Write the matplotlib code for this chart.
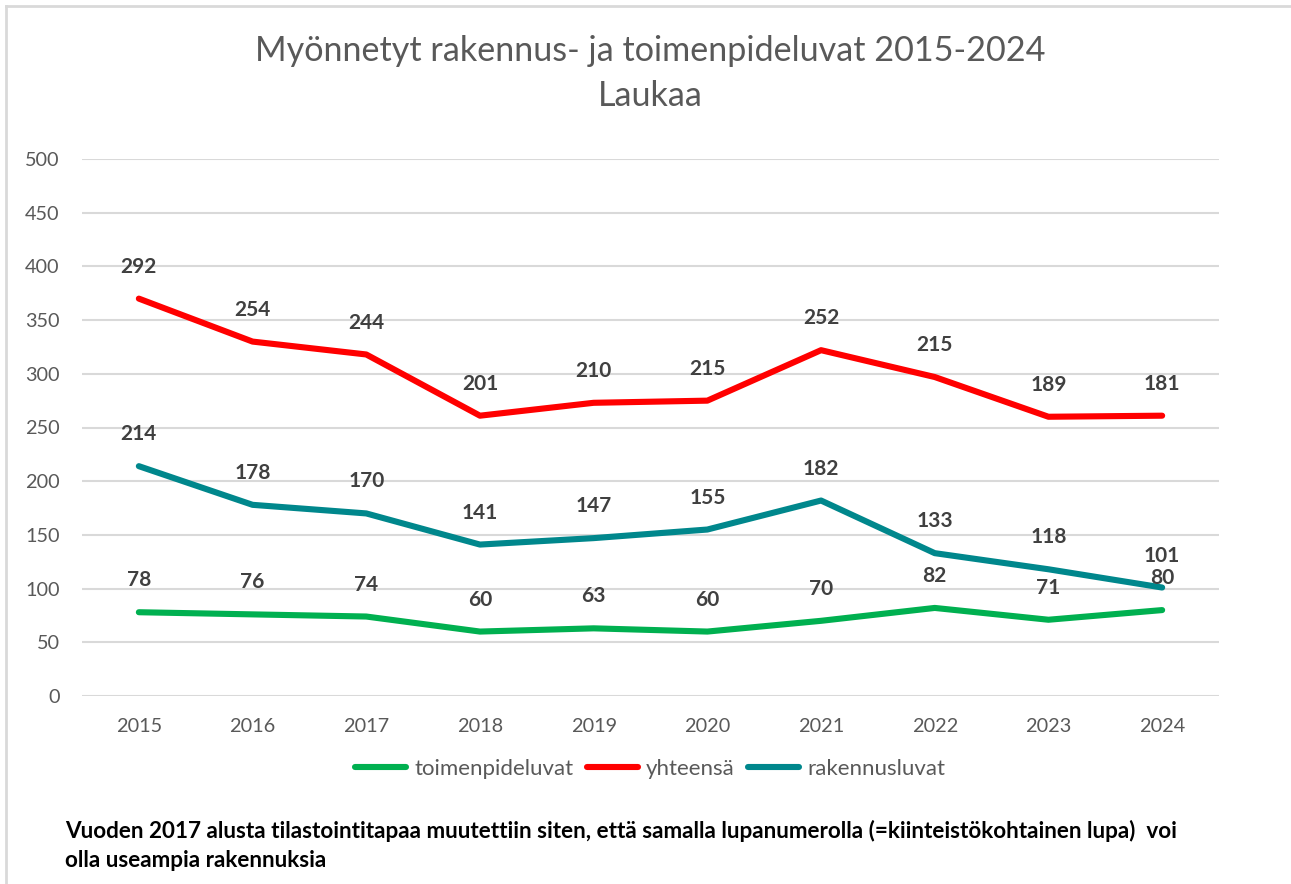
import numpy as np
import matplotlib
matplotlib.use("Agg")
import matplotlib.pyplot as plt
from matplotlib.lines import Line2D

years = [2015, 2016, 2017, 2018, 2019, 2020, 2021, 2022, 2023, 2024]
toimenpideluvat = [78, 76, 74, 60, 63, 60, 70, 82, 71, 80]
yhteensa = [292, 254, 244, 201, 210, 215, 252, 215, 189, 181]
rakennusluvat = [214, 178, 170, 141, 147, 155, 182, 133, 118, 101]

title = "Myönnetyt rakennus- ja toimenpideluvat 2015-2024\nLaukaa"
note = ("Vuoden 2017 alusta tilastointitapaa muutettiin siten, että samalla lupanumerolla "
        "(=kiinteistökohtainen lupa)  voi\nolla useampia rakennuksia")

GREEN = "#00B050"
RED = "#FF0000"
TEAL = "#00878C"
LABEL = "#404040"
TICK = "#595959"
GRID = "#D9D9D9"

plt.rcParams['font.family'] = ['Lato', 'DejaVu Sans']

fig = plt.figure(figsize=(12.91, 8.84), dpi=100)
ax = fig.add_axes([82/1291, 1-696/884, (1219-82)/1291, (696-159)/884])

x = np.arange(len(years))
# Excel stacked line: yhteensä stacked on top of toimenpideluvat
red_vals = np.array(toimenpideluvat) + np.array(yhteensa)

lw = 4.4
ax.plot(x, toimenpideluvat, color=GREEN, lw=lw, solid_capstyle='round', solid_joinstyle='round', label="toimenpideluvat", zorder=3)
ax.plot(x, red_vals, color=RED, lw=lw, solid_capstyle='round', solid_joinstyle='round', label="yhteensä", zorder=3)
ax.plot(x, rakennusluvat, color=TEAL, lw=lw, solid_capstyle='round', solid_joinstyle='round', label="rakennusluvat", zorder=3)

def labels(yvals, texts):
    for xi, yi, t in zip(x, yvals, texts):
        ax.annotate(str(t), (xi, yi), xytext=(0, 23), textcoords='offset points',
                    ha='center', va='center', fontsize=15, fontweight='bold', color=LABEL, zorder=4)

labels(toimenpideluvat, toimenpideluvat)
labels(red_vals, yhteensa)
labels(rakennusluvat, rakennusluvat)

ax.set_xlim(-0.5, len(years) - 0.5)
ax.set_ylim(0, 500)
ax.set_yticks(np.arange(0, 501, 50))
ax.set_xticks(x)
ax.set_xticklabels([str(y) for y in years])
ax.tick_params(axis='both', length=0, labelsize=14.3, labelcolor=TICK)
ax.tick_params(axis='y', pad=16)
ax.tick_params(axis='x', pad=16)
ax.grid(axis='y', color=GRID, lw=1.5)
ax.set_axisbelow(True)
for s in ax.spines.values():
    s.set_visible(False)

fig.text(650/1291, 1-73.5/884, title, ha='center', va='center', fontsize=24.6, color=TICK,
         fontweight='normal', linespacing=1.5)

leg = fig.legend(loc='center', bbox_to_anchor=(650/1291, 1-769/884), ncol=3, frameon=False,
                 fontsize=16, handlelength=2.3, handletextpad=0.36, columnspacing=0.6)
for t in leg.get_texts():
    t.set_color(TICK)

fig.text(65/1291, 1-845.5/884, note, ha='left', va='center', fontsize=16.2, fontweight='bold',
         color='black', linespacing=1.45)

# chart border (top and left visible)
fig.add_artist(Line2D([6/1291, 1], [1-6/884, 1-6/884], color=GRID, lw=2, transform=fig.transFigure))
fig.add_artist(Line2D([6/1291, 6/1291], [1-6/884, 0], color=GRID, lw=2, transform=fig.transFigure))

fig.savefig("out.png", dpi=100)
